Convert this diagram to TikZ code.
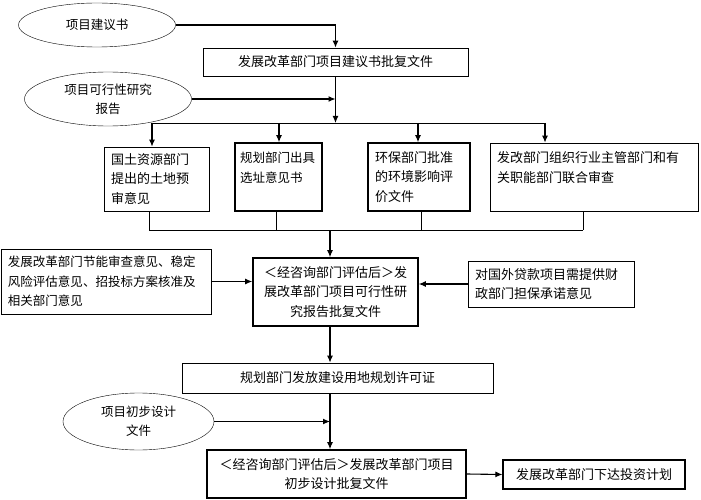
\documentclass[tikz,border=0pt]{standalone}
\usepackage{fontspec}
\newfontfamily\cjk{Noto Sans CJK SC}
\usetikzlibrary{shapes.geometric,arrows.meta}

\begin{document}
\begin{tikzpicture}[x=1pt,y=-1pt,>={Latex[length=7pt,width=6pt]},
bubble/.style={draw=black,ellipse,inner sep=0pt,align=center,font=\cjk\fontsize{12.5}{19}\selectfont},
doc/.style={draw=black,rectangle,inner xsep=7pt,inner ysep=4pt,line width=0.8pt,align=left,font=\cjk\fontsize{13}{19.5}\selectfont},
flow/.style={->,line width=1.1pt},
link/.style={line width=0.8pt}]
	\useasboundingbox (0,0) rectangle (701,500);

	\node[bubble,minimum width=157pt,minimum height=44pt] at (97,25) (e1) {项目建议书};
	\node[doc,align=center,minimum width=265pt,minimum height=28pt] at (335.5,62) (b1) {发展改革部门项目建议书批复文件};
	\node[bubble,minimum width=167pt,minimum height=54pt] at (108,99) (e2) {项目可行性研究\\报告};

	\node[doc,text width=91pt,minimum height=64pt] at (156.5,179) (a1) {国土资源部门\\提出的土地预\\审意见};
	\node[doc,inner xsep=5pt,line width=1.6pt,text width=77pt,minimum height=68pt,font=\cjk\fontsize{12.5}{19.5}\selectfont] at (278.5,177) (a2) {规划部门出具\\选址意见书\\~};
	\node[doc,line width=1.6pt,text width=88pt,minimum height=68pt] at (419,177) (a3) {环保部门批准\\的环境影响评\\价文件};
	\node[doc,text width=194pt,minimum height=68pt] at (594,177) (a4) {发改部门组织行业主管部门和有\\关职能部门联合审查\\~};

	\node[doc,line width=1.6pt,align=center,text width=151pt,minimum height=68pt] at (335.5,292) (m1) {＜经咨询部门评估后＞发\\展改革部门项目可行性研\\究报告批复文件};
	\node[doc,text width=196pt,minimum height=65pt,font=\cjk\fontsize{12.5}{19.5}\selectfont] at (106,281.5) (f1) {发展改革部门节能审查意见、稳定\\风险评估意见、招投标方案核准及\\相关部门意见};
	\node[doc,text width=152pt,minimum height=46pt] at (551,284) (g1) {对国外贷款项目需提供财\\政部门担保承诺意见};

	\node[doc,align=center,minimum width=311pt,minimum height=30pt] at (337.5,378) (h1) {规划部门发放建设用地规划许可证};
	\node[bubble,minimum width=151pt,minimum height=57pt] at (138.5,421.5) (e3) {项目初步设计\\文件};
	\node[doc,line width=1.6pt,align=center,text width=245pt,minimum height=48pt] at (336.5,474) (i1) {＜经咨询部门评估后＞发展改革部门项目\\初步设计批复文件};
	\node[doc,line width=1.2pt,align=center,minimum width=182pt,minimum height=29pt] at (594,474.5) (j1) {发展改革部门下达投资计划};

	% branch and merge points
	\coordinate (s1) at (335.5,123);
	\coordinate (t1) at (152,123);
	\coordinate (t2) at (279,123);
	\coordinate (t3) at (418,123);
	\coordinate (t4) at (545,123);
	\coordinate (u1) at (149,230);
	\coordinate (u2) at (276,230);
	\coordinate (u3) at (421,230);
	\coordinate (u4) at (583,230);
	\coordinate (u0) at (330,230);

	\draw[flow] (e1.east) -| (b1.north);
	\draw[flow] (b1.south) -- (s1);
	\draw[flow] (e2.east) -- (e2.east -| b1.south);
	\draw[link] (t1) -- (t4);
	\foreach \i in {1,...,4} \draw[flow] (t\i) -- (t\i |- a\i.north);
	\foreach \i in {1,...,4} \draw[link] (a\i.south -| u\i) -- (u\i);
	\draw[link] (u1) -- (u4);
	\draw[flow] (u0) -- (u0 |- m1.north);
	\draw[flow] (f1.east) -- (f1.east -| m1.west);
	\draw[flow] (g1.west) -- (g1.west -| m1.east);
	\draw[flow] (m1.south -| u0) -- (h1.north -| u0);
	\draw[flow] (h1.south -| u0) -- (i1.north -| u0);
	\draw[flow] (e3.east) -- (e3.east -| u0);
	\draw[flow] (i1.east) -- (j1.west);
\end{tikzpicture}
\end{document}
